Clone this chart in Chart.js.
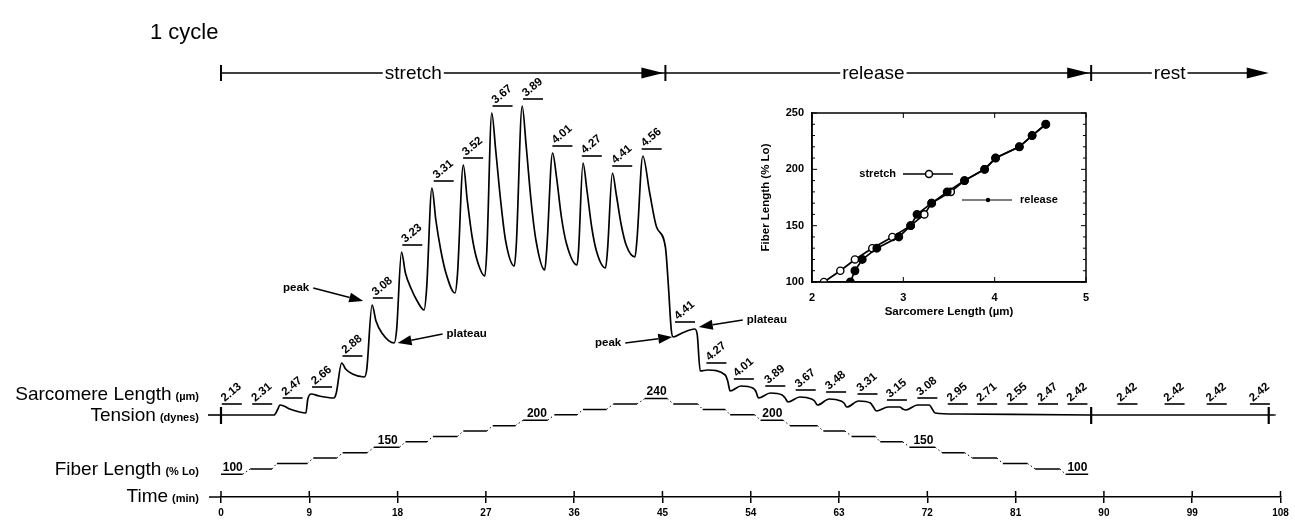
<!DOCTYPE html>
<html>
<head>
  <title>1 cycle</title>
<script src="https://cdn.jsdelivr.net/npm/chart.js"></script>
<style>
body { margin: 0; background: #fff; }
#wrap { position: relative; width: 1295px; height: 520px; }
#inset { position: absolute; left: 755px; top: 95px; }
</style>
</head>
<body>
<div id="wrap">
  <canvas id="main" width="1295" height="520"></canvas>
  <canvas id="inset" width="345" height="228"></canvas>
</div>
<script>
const FONT = '"Liberation Sans", Arial, Helvetica, sans-serif';

// tension trace (time in min, tension in arbitrary units)
const tensionTime = [0, 5.4, 5.8, 6.0, 6.4, 7.0, 8.0, 8.65, 8.85, 9.2, 10.0, 11.5, 11.75, 12.3, 12.7, 13.4, 14.6, 14.85, 15.4, 15.8,
  16.4, 17.65, 17.9, 18.4, 18.8, 19.4, 20.0, 20.7, 20.95, 21.5, 21.9, 22.4, 22.9, 23.85, 24.1, 24.7, 25.1, 25.6, 26.1, 26.9,
  27.1, 27.6, 28.0, 28.5, 29.0, 29.9, 30.1, 30.7, 31.1, 31.6, 32.1, 33.0, 33.2, 33.8, 34.2, 34.7, 35.2, 36.3, 36.45, 36.9,
  37.3, 37.8, 38.3, 39.2, 39.4, 39.9, 40.3, 40.8, 41.3, 42.2, 42.4, 43.0, 43.7, 44.4, 45.3, 45.6, 45.9, 46.1, 47.0, 48.3,
  48.55, 48.85, 49.6, 51.4, 51.65, 51.9, 53.0, 54.2, 54.5, 54.8, 56.0, 57.2, 57.5, 57.8, 59.0, 60.2, 60.5, 60.8, 62.0, 63.2,
  63.5, 63.8, 65.0, 66.2, 66.5, 66.8, 68.0, 69.2, 69.5, 69.8, 71.0, 72.2, 72.5, 72.8, 75.0, 88.7, 107.4];
const tensionValue = [0, 0, 6, 10, 9, 6, 3, 2, 16, 21, 19, 17, 22, 52, 46, 41, 38, 45, 110, 94,
  82, 72, 85, 163, 142, 126, 114, 105, 125, 227, 195, 165, 143, 122, 140, 250, 215, 178, 155, 139,
  165, 302, 265, 215, 175, 149, 170, 309, 270, 215, 175, 145, 165, 262, 238, 198, 172, 150, 165, 252,
  225, 187, 163, 147, 165, 242, 220, 190, 170, 158, 175, 259, 222, 188, 168, 130, 85, 78, 82, 86,
  80, 44, 45, 40, 34, 24, 29, 27, 24, 17, 22, 20, 17, 13, 18, 16, 14, 10, 16, 14,
  12, 8, 14, 12, 8, 4, 8, 8, 6, 5, 10, 10, 6, 2, 1, 0, 0];

// fiber length steps (% Lo)
const fiberTime = [0, 2.2, 3.0, 5.2, 5.7, 8.8, 9.4, 11.8, 12.4, 14.9, 15.6, 18.2, 18.8, 21.0, 21.6, 24.1, 24.7, 27.1, 27.7, 30.0,
  30.8, 33.3, 34.0, 36.3, 36.9, 39.3, 40.0, 42.4, 43.2, 45.5, 46.1, 48.6, 49.1, 51.4, 51.9, 54.4, 55.0, 57.3, 58.0, 60.8,
  61.4, 63.6, 64.3, 66.7, 67.2, 69.5, 70.2, 72.8, 73.5, 75.8, 76.6, 79.1, 79.7, 82.2, 83.0, 85.5, 86.1, 88.4];
const fiberLength = [100, 100, 110, 110, 120, 120, 130, 130, 140, 140, 150, 150, 160, 160, 170, 170, 180, 180, 190, 190,
  200, 200, 210, 210, 220, 220, 230, 230, 240, 240, 230, 230, 220, 220, 210, 210, 200, 200, 190, 190,
  180, 180, 170, 170, 160, 160, 150, 150, 140, 140, 130, 130, 120, 120, 110, 110, 100, 100];
const fiberLabel = [100, 150, 200, 240, 200, 150, 100];
const fiberLabelTime = [1.2, 17.0, 32.2, 44.4, 56.2, 71.6, 87.3];

// sarcomere length written over each step (µm)
const sarcoLabel = ['2.13', '2.31', '2.47', '2.66', '2.88', '3.08', '3.23', '3.31', '3.52', '3.67', '3.89', '4.01', '4.27', '4.41', '4.56',
  '4.41', '4.27', '4.01', '3.89', '3.67', '3.48', '3.31', '3.15', '3.08', '2.95', '2.71', '2.55', '2.47', '2.42',
  '2.42', '2.42', '2.42', '2.42'];
const sarcoTime = [1.1, 4.2, 7.3, 10.3, 13.4, 16.5, 19.5, 22.7, 25.7, 28.7, 31.8, 34.8, 37.8, 40.9, 43.9,
  47.3, 50.5, 53.3, 56.5, 59.6, 62.7, 65.9, 68.9, 72.0, 75.1, 78.1, 81.2, 84.3, 87.3,
  92.4, 97.2, 101.5, 105.9];

// phases of the cycle
const phaseName = ['stretch', 'release', 'rest'];
const phaseBound = [0, 45.3, 88.7, 106.8];
const phaseLabelTime = [19.6, 66.5, 96.7];

// peak / plateau notes (time, tension)
const noteText = ['peak', 'plateau', 'peak', 'plateau'];
const noteTime = [14.5, 18.0, 46.0, 48.7];
const noteTension = [114, 72, 78, 88];

// inset: fiber length vs sarcomere length
const stretchSL = [2.13, 2.31, 2.47, 2.66, 2.88, 3.08, 3.23, 3.31, 3.52, 3.67, 3.89, 4.01, 4.27, 4.41, 4.56];
const stretchFL = [100, 110, 120, 130, 140, 150, 160, 170, 180, 190, 200, 210, 220, 230, 240];
const releaseSL = [4.56, 4.41, 4.27, 4.01, 3.89, 3.67, 3.48, 3.31, 3.15, 3.08, 2.95, 2.71, 2.55, 2.47, 2.42];
const releaseFL = [240, 230, 220, 210, 200, 190, 180, 170, 160, 150, 140, 130, 120, 110, 100];

function arrowTo(ctx, x0, y0, x1, y1, len, half) {
  const a = Math.atan2(y1 - y0, x1 - x0);
  const bx = x1 - len * Math.cos(a), by = y1 - len * Math.sin(a);
  ctx.beginPath(); ctx.moveTo(x0, y0); ctx.lineTo(bx, by); ctx.stroke();
  ctx.beginPath();
  ctx.moveTo(x1, y1);
  ctx.lineTo(bx + half * Math.sin(a), by - half * Math.cos(a));
  ctx.lineTo(bx - half * Math.sin(a), by + half * Math.cos(a));
  ctx.closePath(); ctx.fill();
}

function vtick(ctx, x, y0, y1, w) {
  ctx.lineWidth = w;
  ctx.beginPath(); ctx.moveTo(x, y0); ctx.lineTo(x, y1); ctx.stroke();
}

const annotPlugin = {
  id: 'annot',
  afterDraw(chart) {
    const ctx = chart.ctx;
    const xs = chart.scales.x, yT = chart.scales.yT, yF = chart.scales.yF;
    const X = t => xs.getPixelForValue(t);
    ctx.save();
    ctx.fillStyle = '#000'; ctx.strokeStyle = '#000';

    ctx.font = '22px ' + FONT;
    ctx.textAlign = 'left'; ctx.textBaseline = 'alphabetic';
    ctx.fillText('1 cycle', 150, 39);

    // phase bar
    const by = 73;
    ctx.lineWidth = 1.3;
    ctx.beginPath(); ctx.moveTo(X(phaseBound[0]), by); ctx.lineTo(X(phaseBound[3]) - 12, by); ctx.stroke();
    for (let i = 0; i < phaseName.length; i++) {
      const x0 = X(phaseBound[i]), x1 = X(phaseBound[i + 1]);
      vtick(ctx, x0, by - 8, by + 8, 2);
      const tip = i < phaseName.length - 1 ? x1 - 2 : x1;
      ctx.beginPath();
      ctx.moveTo(tip, by); ctx.lineTo(tip - 22, by - 5.5); ctx.lineTo(tip - 22, by + 5.5);
      ctx.closePath(); ctx.fill();
      ctx.font = '19px ' + FONT;
      const w = ctx.measureText(phaseName[i]).width;
      const cx = X(phaseLabelTime[i]);
      ctx.fillStyle = '#fff'; ctx.fillRect(cx - w / 2 - 2, by - 10, w + 4, 20);
      ctx.fillStyle = '#000';
      ctx.textAlign = 'center'; ctx.textBaseline = 'middle';
      ctx.fillText(phaseName[i], cx, by + 1);
    }

    // tension baseline crosses
    const baseY = yT.getPixelForValue(0);
    ctx.lineWidth = 1.6;
    ctx.beginPath(); ctx.moveTo(X(0) - 13, baseY); ctx.lineTo(X(0), baseY); ctx.stroke();
    ctx.beginPath(); ctx.moveTo(X(107.4), baseY); ctx.lineTo(X(107.4) + 1, baseY); ctx.stroke();
    [phaseBound[0], phaseBound[2], phaseBound[3]].forEach(t => vtick(ctx, X(t), baseY - 8, baseY + 9, 2.2));

    // time axis: upper half of ticks and left stub
    ctx.lineWidth = 1.5;
    xs.ticks.forEach(tk => vtick(ctx, X(tk.value), xs.top - 6, xs.top, 1.5));
    ctx.beginPath(); ctx.moveTo(X(0) - 12, xs.top); ctx.lineTo(X(0), xs.top); ctx.stroke();

    // row labels
    const rows = [['Sarcomere Length', '(\u00b5m)', baseY - 21], ['Tension', '(dynes)', baseY],
      ['Fiber Length', '(% Lo)', yF.getPixelForValue(100) - 5], ['Time', '(min)', xs.top - 1]];
    ctx.textAlign = 'right'; ctx.textBaseline = 'alphabetic';
    rows.forEach(([name, unit, y]) => {
      ctx.font = 'bold 11px ' + FONT;
      const uw = ctx.measureText(unit).width;
      ctx.fillText(unit, 199, y + 6);
      ctx.font = '19px ' + FONT;
      ctx.fillText(name, 199 - uw - 4, y + 6);
    });

    // sarcomere length labels
    ctx.font = 'bold 11.5px ' + FONT;
    ctx.textAlign = 'left'; ctx.textBaseline = 'alphabetic';
    sarcoLabel.forEach((txt, i) => {
      const tc = sarcoTime[i];
      let vmax = 0;
      tensionTime.forEach((t, j) => { if (Math.abs(t - tc) <= 1.3) vmax = Math.max(vmax, tensionValue[j]); });
      const uy = Math.min(yT.getPixelForValue(vmax) - 7, baseY - 11);
      const ux = X(tc);
      ctx.lineWidth = 1.6;
      ctx.beginPath(); ctx.moveTo(ux - 10, uy); ctx.lineTo(ux + 10, uy); ctx.stroke();
      ctx.save();
      ctx.translate(ux - 7, uy - 2);
      ctx.rotate(-40 * Math.PI / 180);
      ctx.fillText(txt, 0, 0);
      ctx.restore();
    });

    // fiber length labels
    ctx.font = 'bold 12px ' + FONT;
    ctx.textAlign = 'center'; ctx.textBaseline = 'bottom';
    fiberLabel.forEach((v, i) => ctx.fillText(String(v), X(fiberLabelTime[i]), yF.getPixelForValue(v) - 1));

    // peak / plateau arrows
    const offs = [[-50, -13], [45, -9], [-47, 6], [44, -7]];
    ctx.lineWidth = 1.4;
    ctx.font = 'bold 11.5px ' + FONT;
    ctx.textBaseline = 'middle';
    noteText.forEach((txt, i) => {
      const tx = X(noteTime[i]), ty = yT.getPixelForValue(noteTension[i]);
      const sx = tx + offs[i][0], sy = ty + offs[i][1];
      arrowTo(ctx, sx, sy, tx, ty, 14, 5);
      ctx.textAlign = offs[i][0] < 0 ? 'right' : 'left';
      ctx.fillText(txt, sx + (offs[i][0] < 0 ? -4 : 4), sy);
    });
    ctx.restore();
  }
};

const main = new Chart(document.getElementById('main'), {
  type: 'line',
  data: {
    datasets: [
      {
        label: 'Tension',
        data: tensionTime.map((t, i) => ({x: t, y: tensionValue[i]})),
        yAxisID: 'yT',
        borderColor: '#000',
        borderWidth: 1.7,
        pointRadius: 0,
        cubicInterpolationMode: 'monotone'
      },
      {
        label: 'Fiber Length',
        data: fiberTime.map((t, i) => ({x: t, y: fiberLength[i]})),
        yAxisID: 'yF',
        borderColor: '#000',
        borderWidth: 1.5,
        pointRadius: 0,
        segment: {
          borderDash: c => c.p0.parsed.y !== c.p1.parsed.y ? [1.5, 2.5] : undefined,
          borderWidth: c => c.p0.parsed.y !== c.p1.parsed.y ? 1 : undefined
        }
      }
    ]
  },
  options: {
    responsive: false,
    animation: false,
    devicePixelRatio: 1,
    layout: { padding: { left: 221, right: 14.5, top: 97, bottom: 0 } },
    plugins: { legend: { display: false }, tooltip: { enabled: false } },
    scales: {
      x: {
        type: 'linear', min: 0, max: 108,
        ticks: { stepSize: 9, color: '#000', padding: 4, maxRotation: 0, font: { family: FONT, size: 10, weight: 'bold' } },
        grid: { drawOnChartArea: false, color: '#000', lineWidth: 1.5, tickLength: 6 },
        border: { color: '#000', width: 1.5 },
        afterFit(s) { s.height = 23; }
      },
      yT: { display: false, min: -82, max: 318 },
      yF: { display: false, min: 58, max: 798 }
    }
  },
  plugins: [annotPlugin]
});

const insetPlugin = {
  id: 'insetFrame',
  afterDraw(chart) {
    const ctx = chart.ctx, ca = chart.chartArea;
    const xs = chart.scales.x, ys = chart.scales.y;
    ctx.save();
    ctx.strokeStyle = '#000'; ctx.fillStyle = '#000';
    ctx.lineWidth = 1.5;
    ctx.strokeRect(ca.left, ca.top, ca.right - ca.left, ca.bottom - ca.top);
    ctx.lineWidth = 1;
    for (let v = 100; v <= 250; v += 10) {
      const y = ys.getPixelForValue(v), l = v % 50 === 0 ? 5 : 3;
      ctx.beginPath();
      ctx.moveTo(ca.left, y); ctx.lineTo(ca.left + l, y);
      ctx.moveTo(ca.right, y); ctx.lineTo(ca.right - l, y);
      ctx.stroke();
    }
    for (let v = 2; v <= 5; v += 1) {
      const x = xs.getPixelForValue(v);
      ctx.beginPath();
      ctx.moveTo(x, ca.bottom); ctx.lineTo(x, ca.bottom - 5);
      ctx.moveTo(x, ca.top); ctx.lineTo(x, ca.top + 5);
      ctx.stroke();
    }
    // legend
    ctx.font = 'bold 11px ' + FONT;
    ctx.textBaseline = 'middle';
    const sy = ca.top + 61, ry = ca.top + 87;
    ctx.lineWidth = 1.5;
    ctx.beginPath(); ctx.moveTo(ca.left + 91, sy); ctx.lineTo(ca.left + 141, sy); ctx.stroke();
    ctx.beginPath(); ctx.arc(ca.left + 117, sy, 3.5, 0, Math.PI * 2);
    ctx.fillStyle = '#fff'; ctx.fill(); ctx.stroke();
    ctx.fillStyle = '#000';
    ctx.textAlign = 'right'; ctx.fillText('stretch', ca.left + 84, sy);
    ctx.lineWidth = 1.2;
    ctx.beginPath(); ctx.moveTo(ca.left + 150, ry); ctx.lineTo(ca.left + 200, ry); ctx.stroke();
    ctx.beginPath(); ctx.arc(ca.left + 176, ry, 2.2, 0, Math.PI * 2); ctx.fill();
    ctx.textAlign = 'left'; ctx.fillText('release', ca.left + 208, ry);
    ctx.restore();
  }
};

const tickFont = { family: FONT, size: 11, weight: 'bold' };
const inset = new Chart(document.getElementById('inset'), {
  type: 'line',
  data: {
    datasets: [
      {
        label: 'release',
        data: releaseSL.map((s, i) => ({x: s, y: releaseFL[i]})),
        borderColor: '#000', borderWidth: 1.7,
        pointRadius: 3.6, pointBackgroundColor: '#000', pointBorderColor: '#000',
        order: 0
      },
      {
        label: 'stretch',
        data: stretchSL.map((s, i) => ({x: s, y: stretchFL[i]})),
        borderColor: '#000', borderWidth: 1.7,
        pointRadius: 3.6, pointBackgroundColor: '#fff', pointBorderColor: '#000', pointBorderWidth: 1.4,
        order: 1
      }
    ]
  },
  options: {
    responsive: false,
    animation: false,
    devicePixelRatio: 1,
    layout: { padding: { left: 0, right: 14, top: 18, bottom: 0 } },
    plugins: { legend: { display: false }, tooltip: { enabled: false } },
    scales: {
      x: {
        type: 'linear', min: 2, max: 5,
        ticks: { stepSize: 1, color: '#000', padding: 9, font: tickFont },
        grid: { display: false, drawTicks: false },
        border: { color: '#000', width: 1.5 },
        title: { display: true, text: 'Sarcomere Length (\u00b5m)', color: '#000', padding: { top: 0, bottom: 4 }, font: { family: FONT, size: 11.5, weight: 'bold' } },
        afterFit(s) { s.height = 41; }
      },
      y: {
        min: 100, max: 250,
        ticks: { stepSize: 50, color: '#000', padding: 8, font: tickFont },
        grid: { display: false, drawTicks: false },
        border: { color: '#000', width: 1.5 },
        title: { display: true, text: 'Fiber Length (% Lo)', color: '#000', padding: { top: 4, bottom: 0 }, font: { family: FONT, size: 11.5, weight: 'bold' } },
        afterFit(s) { s.width = 57; }
      }
    }
  },
  plugins: [insetPlugin]
});
</script>
</body>
</html>
